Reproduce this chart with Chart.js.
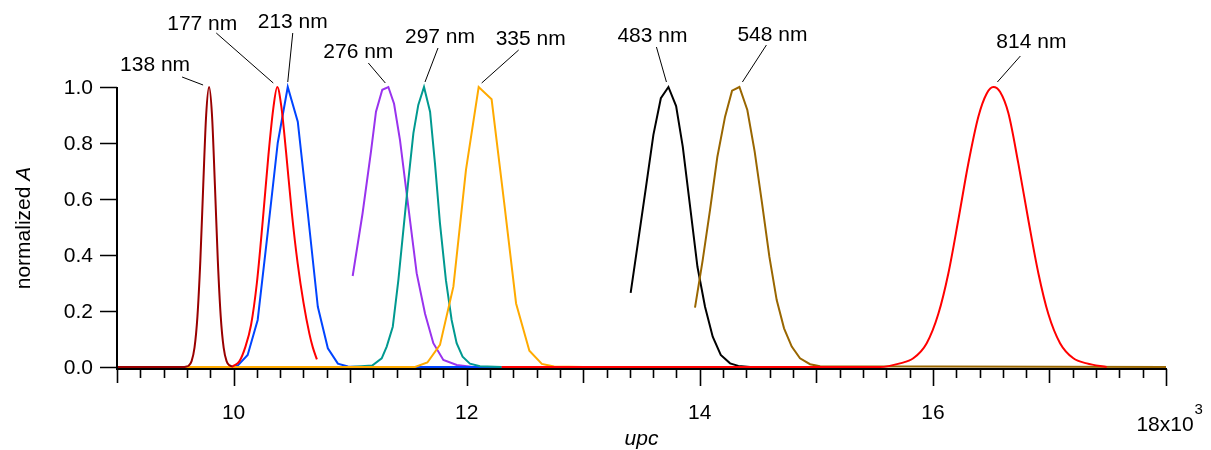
<!DOCTYPE html>
<html>
<head>
<meta charset="utf-8">
<script src="https://cdn.jsdelivr.net/npm/chart.js@4/dist/chart.umd.min.js"></script>
<style>
  html, body { margin: 0; padding: 0; background: #fff; }
  #wrap { width: 1211px; height: 450px; }
</style>
</head>
<body>
<div id="wrap"><canvas id="peakChart" width="1211" height="450"></canvas></div>
<script>
// Normalized absorbance peaks vs upc, one trace per wavelength

const FONT = '"Liberation Sans", Arial, "Helvetica Neue", sans-serif';
const FS = 21;

// 138 nm
const upc138 = [9000, 9560, 9590, 9615, 9640, 9665, 9690, 9715, 9740, 9765, 9790, 9815, 9840, 9865, 9890, 9915, 9940, 9965, 9990];
const abs138 = [0, 0, 0.001, 0.005, 0.021, 0.069, 0.18, 0.38, 0.65, 0.90, 1.0, 0.90, 0.65, 0.38, 0.18, 0.069, 0.021, 0.006, 0.002];
// 177 nm
const upc177 = [9985, 10000, 10050, 10100, 10150, 10200, 10250, 10300, 10340, 10375, 10410, 10450, 10500, 10550, 10600, 10650, 10680, 10715];
const abs177 = [0, 0.004, 0.02, 0.07, 0.15, 0.30, 0.52, 0.76, 0.92, 1.0, 0.93, 0.77, 0.55, 0.37, 0.23, 0.12, 0.07, 0.027];
// 213 nm
const upc213 = [9995, 10035, 10121, 10207, 10293, 10379, 10465, 10551, 10637, 10723, 10809, 10895, 10981, 11100, 12300];
const abs213 = [0, 0.005, 0.043, 0.168, 0.48, 0.80, 1.0, 0.876, 0.55, 0.215, 0.067, 0.012, 0.002, 0, 0];
// 276 nm
const upc276 = [11022, 11107, 11179, 11222, 11276, 11328, 11377, 11428, 11500, 11571, 11643, 11714, 11800, 11915, 12055];
const abs276 = [0.325, 0.549, 0.769, 0.912, 0.99, 1.0, 0.94, 0.81, 0.57, 0.335, 0.19, 0.085, 0.025, 0.007, 0];
// 297 nm
const upc297 = [11000, 11190, 11271, 11314, 11366, 11414, 11457, 11500, 11543, 11585, 11634, 11686, 11728, 11771, 11822, 11871, 11914, 11965, 12028, 12114, 12300];
const abs297 = [0, 0.005, 0.031, 0.073, 0.144, 0.31, 0.49, 0.668, 0.835, 0.936, 1.0, 0.912, 0.727, 0.513, 0.31, 0.168, 0.085, 0.037, 0.012, 0.003, 0];
// 335 nm
const upc335 = [9000, 11557, 11663, 11771, 11886, 11994, 12103, 12214, 12321, 12424, 12538, 12645, 12750, 13000];
const abs335 = [0, 0, 0.016, 0.079, 0.287, 0.704, 1.0, 0.956, 0.59, 0.227, 0.058, 0.011, 0.002, 0];
// 483 nm
const upc483 = [13407, 13473, 13539, 13602, 13666, 13731, 13797, 13854, 13917, 13980, 14045, 14111, 14180, 14260, 14331, 14431, 14600];
const abs483 = [0.265, 0.454, 0.644, 0.829, 0.96, 1.0, 0.932, 0.787, 0.573, 0.358, 0.215, 0.108, 0.043, 0.013, 0.004, 0, 0];
// 548 nm
const upc548 = [13959, 14025, 14088, 14151, 14217, 14277, 14340, 14408, 14471, 14534, 14597, 14660, 14723, 14789, 14860, 14946, 15032, 18000];
const abs548 = [0.212, 0.382, 0.561, 0.751, 0.894, 0.987, 1.0, 0.918, 0.769, 0.585, 0.394, 0.239, 0.138, 0.073, 0.031, 0.01, 0.003, 0];
// 814 nm
const upc814 = [12300, 15547, 15718, 15832, 15947, 16047, 16133, 16218, 16304, 16390, 16462, 16519, 16576, 16648, 16733, 16819, 16905, 16990, 17091, 17205, 17320, 17491];
const abs814 = [0, 0, 0.013, 0.031, 0.085, 0.19, 0.335, 0.525, 0.727, 0.894, 0.977, 1.0, 0.983, 0.906, 0.727, 0.525, 0.335, 0.19, 0.085, 0.031, 0.013, 0];

// axis ticks
const xMajorTicks = [10000, 12000, 14000, 16000];
const xMajorLabels = ["10", "12", "14", "16"];
const xLastTick = 18000;
const xLastLabel = "18x10";
const xExponent = "3";
const yTicks = [0, 0.2, 0.4, 0.6, 0.8, 1.0];
const yTickLabels = ["0.0", "0.2", "0.4", "0.6", "0.8", "1.0"];

// traces, listed top-most first (Chart.js paints index 0 last)
const traces = [
  { label: "138 nm", xs: upc138, ys: abs138, color: "#990000", smooth: true },
  { label: "177 nm", xs: upc177, ys: abs177, color: "#ff0000", smooth: true },
  { label: "814 nm", xs: upc814, ys: abs814, color: "#ff0000", smooth: true },
  { label: "548 nm", xs: upc548, ys: abs548, color: "#996600", smooth: false },
  { label: "483 nm", xs: upc483, ys: abs483, color: "#000000", smooth: false },
  { label: "335 nm", xs: upc335, ys: abs335, color: "#ffaa00", smooth: false },
  { label: "297 nm", xs: upc297, ys: abs297, color: "#009990", smooth: false },
  { label: "213 nm", xs: upc213, ys: abs213, color: "#0044ff", smooth: false },
  { label: "276 nm", xs: upc276, ys: abs276, color: "#9933ee", smooth: false }
];

// label placement relative to each peak, in px: text baseline-centre, leader start, leader end
const labelLayout = {
  "138 nm": { text: [-54, -16], from: [-27, -10], to: [-6, -2] },
  "177 nm": { text: [-75, -57], from: [-61, -54], to: [-4, -4] },
  "213 nm": { text: [5, -59], from: [5, -54], to: [0, -5] },
  "276 nm": { text: [-30, -29], from: [-20, -24], to: [-3, -4] },
  "297 nm": { text: [16, -44], from: [14, -39], to: [1, -5] },
  "335 nm": { text: [52, -42], from: [40, -37], to: [3, -4] },
  "483 nm": { text: [-16, -45], from: [-12, -40], to: [-2, -5] },
  "548 nm": { text: [33, -46], from: [27, -42], to: [3, -5] },
  "814 nm": { text: [38, -39], from: [27, -31], to: [4, -5] }
};

function toPoints(xs, ys) {
  return xs.map((x, i) => ({ x: x, y: ys[i] }));
}

// Igor-style axes: standoff x axis, three tick lengths
const axesPlugin = {
  id: "igorAxes",
  afterDatasetsDraw(chart) {
    const ctx = chart.ctx;
    const xs = chart.scales.x;
    const ys = chart.scales.y;
    const left = xs.getPixelForValue(xs.min);
    const right = xs.getPixelForValue(xs.max);
    const axisY = ys.getPixelForValue(0) + 2;
    const top = ys.getPixelForValue(1);

    ctx.save();
    ctx.strokeStyle = "#000";
    ctx.fillStyle = "#000";
    ctx.lineWidth = 2;

    ctx.beginPath();
    ctx.moveTo(left, top);
    ctx.lineTo(left, axisY);
    ctx.moveTo(left - 1, axisY);
    ctx.lineTo(right + 1, axisY);
    ctx.stroke();

    // x ticks every 200
    ctx.lineWidth = 1.6;
    ctx.beginPath();
    for (let v = xs.min; v <= xs.max + 1; v += 200) {
      const px = Math.round(xs.getPixelForValue(v)) + 0.5;
      let len = 9;
      if (v % 2000 === 0) len = 17;
      else if (v % 1000 === 0) len = 14;
      ctx.moveTo(px, axisY);
      ctx.lineTo(px, axisY + len);
    }
    // y ticks
    yTicks.forEach(v => {
      const py = Math.round(ys.getPixelForValue(v)) + 0.5;
      ctx.moveTo(left, py);
      ctx.lineTo(left - 17, py);
    });
    ctx.stroke();

    ctx.font = FS + "px " + FONT;
    ctx.textAlign = "right";
    ctx.textBaseline = "middle";
    yTicks.forEach((v, i) => {
      ctx.fillText(yTickLabels[i], left - 24, ys.getPixelForValue(v) + 1);
    });

    ctx.textAlign = "center";
    ctx.textBaseline = "alphabetic";
    xMajorTicks.forEach((v, i) => {
      ctx.fillText(xMajorLabels[i], xs.getPixelForValue(v), axisY + 50);
    });
    const lastX = xs.getPixelForValue(xLastTick);
    ctx.fillText(xLastLabel, lastX - 1, axisY + 62);
    const w = ctx.measureText(xLastLabel).width;
    ctx.textAlign = "left";
    ctx.font = "15px " + FONT;
    ctx.fillText(xExponent, lastX - 1 + w / 2 + 1, axisY + 45);

    // axis titles
    ctx.font = "italic " + FS + "px " + FONT;
    ctx.textAlign = "center";
    ctx.fillText("upc", (left + right) / 2, axisY + 76);

    ctx.translate(24, (top + axisY) / 2);
    ctx.rotate(-Math.PI / 2);
    ctx.textBaseline = "middle";
    const plain = "normalized ";
    ctx.font = FS + "px " + FONT;
    const w1 = ctx.measureText(plain).width;
    ctx.font = "italic " + FS + "px " + FONT;
    const w2 = ctx.measureText("A").width;
    ctx.textAlign = "left";
    ctx.font = FS + "px " + FONT;
    ctx.fillText(plain, -(w1 + w2) / 2, 0);
    ctx.font = "italic " + FS + "px " + FONT;
    ctx.fillText("A", -(w1 + w2) / 2 + w1, 0);
    ctx.restore();
  }
};

// wavelength labels with leader lines, anchored on each trace's maximum
const peakLabelPlugin = {
  id: "peakLabels",
  afterDatasetsDraw(chart) {
    const ctx = chart.ctx;
    const xs = chart.scales.x;
    const ys = chart.scales.y;
    ctx.save();
    ctx.strokeStyle = "#000";
    ctx.fillStyle = "#000";
    ctx.lineWidth = 1;
    ctx.font = FS + "px " + FONT;
    ctx.textAlign = "center";
    ctx.textBaseline = "alphabetic";
    traces.forEach(t => {
      let k = 0;
      t.ys.forEach((v, i) => { if (v > t.ys[k]) k = i; });
      const px = xs.getPixelForValue(t.xs[k]);
      const py = ys.getPixelForValue(t.ys[k]);
      const lay = labelLayout[t.label];
      ctx.beginPath();
      ctx.moveTo(px + lay.from[0], py + lay.from[1]);
      ctx.lineTo(px + lay.to[0], py + lay.to[1]);
      ctx.stroke();
      ctx.fillText(t.label, px + lay.text[0], py + lay.text[1]);
    });
    ctx.restore();
  }
};

const datasets = traces.map(t => ({
  label: t.label,
  data: toPoints(t.xs, t.ys),
  borderColor: t.color,
  backgroundColor: t.color,
  borderWidth: 2,
  pointRadius: 0,
  fill: false,
  clip: false,
  tension: 0,
  cubicInterpolationMode: t.smooth ? "monotone" : "default"
}));

const peakChart = new Chart(document.getElementById("peakChart").getContext("2d"), {
  type: "line",
  data: { datasets },
  options: {
    responsive: false,
    animation: false,
    devicePixelRatio: 1,
    layout: { padding: { left: 117, right: 45, top: 87, bottom: 83 } },
    plugins: { legend: { display: false }, tooltip: { enabled: false } },
    scales: {
      x: { type: "linear", min: 9000, max: 18000, display: false },
      y: { type: "linear", min: 0, max: 1, display: false }
    }
  },
  plugins: [axesPlugin, peakLabelPlugin]
});
</script>
</body>
</html>
